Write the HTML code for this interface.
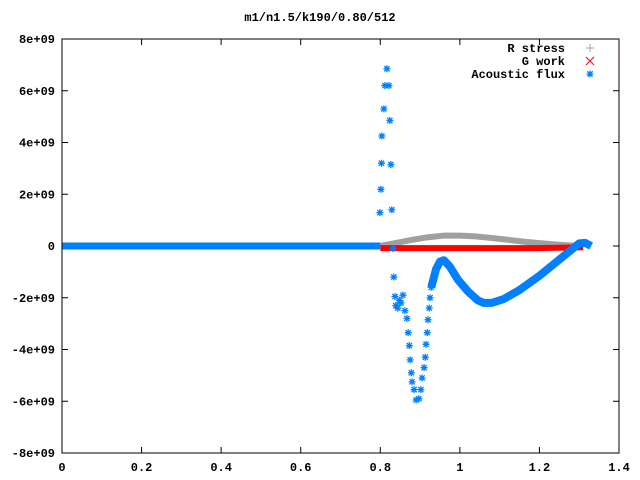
<!DOCTYPE html>
<html><head><meta charset="utf-8"><style>
html,body{margin:0;padding:0;background:#fff;}
svg{display:block;}
text{font-family:"Liberation Mono",monospace;font-size:12px;font-weight:bold;fill:#000;}
</style></head><body>
<svg id="chart" width="640" height="480" viewBox="0 0 640 480" xmlns="http://www.w3.org/2000/svg">
<rect width="640" height="480" fill="#fff"/>
<text x="320" y="21" text-anchor="middle">m1/n1.5/k190/0.80/512</text>
<g id="axes"></g>
<g id="series"></g>
<rect x="62" y="39" width="557" height="414" fill="none" stroke="#000" stroke-width="1"/>
<g id="legend"></g>
</svg>
<script>
const xTicks = [0, 0.2, 0.4, 0.6, 0.8, 1, 1.2, 1.4];
const xTickLabels = ["0","0.2","0.4","0.6","0.8","1","1.2","1.4"];
const yTicks = [8, 6, 4, 2, 0, -2, -4, -6, -8];
const yTickLabels = ["8e+09","6e+09","4e+09","2e+09","0","-2e+09","-4e+09","-6e+09","-8e+09"];
// values in units of 1e9
const rX = [0.80,0.84,0.88,0.92,0.96,1.00,1.04,1.08,1.12,1.16,1.20,1.24,1.28,1.31];
const rY = [0.0,0.12,0.24,0.34,0.40,0.40,0.37,0.31,0.24,0.17,0.11,0.06,0.02,0.0];
const gX = [0.80,0.90,1.00,1.10,1.20,1.31];
const gY = [-0.08,-0.08,-0.08,-0.08,-0.08,-0.05];
const flatX = [0, 0.80];
const flatY = [0, 0];
const spikeX = [0.799,0.8015,0.803,0.804,0.809,0.8116,0.8166,0.8216,0.824,0.8266,0.829,0.832,0.834,0.837,0.839,0.844,0.848,0.852,0.857,0.862,0.867,0.870,0.873,0.875,0.878,0.880,0.885,0.890,0.897,0.902,0.905,0.910,0.913,0.915,0.918,0.920,0.923,0.925,0.928];
const spikeY = [1.29,2.19,3.2,4.25,5.3,6.2,6.85,6.2,4.85,3.15,1.4,-0.1,-1.2,-1.95,-2.3,-2.4,-2.1,-2.2,-1.9,-2.5,-2.8,-3.35,-3.85,-4.4,-4.9,-5.25,-5.55,-5.95,-5.9,-5.55,-5.1,-4.7,-4.3,-3.8,-3.35,-2.85,-2.4,-2.0,-1.6];
const curveX = [0.928,0.935,0.94,0.95,0.96,0.975,0.995,1.02,1.045,1.06,1.08,1.11,1.15,1.20,1.24,1.28,1.30,1.315,1.33];
const curveY = [-1.6,-1.2,-0.9,-0.6,-0.55,-0.8,-1.3,-1.75,-2.1,-2.2,-2.2,-2.05,-1.7,-1.15,-0.65,-0.15,0.1,0.12,0.0];

const L=62,R=619,T=39,B=453;
const sx = v => L + (v-0)/(1.4-0)*(R-L);
const sy = v => B - (v+8)/16*(B-T);
const NS="http://www.w3.org/2000/svg";
function mk(tag, attrs, parent){const e=document.createElementNS(NS,tag);for(const k in attrs)e.setAttribute(k,attrs[k]);parent.appendChild(e);return e;}
const axes=document.getElementById('axes'), ser=document.getElementById('series'), leg=document.getElementById('legend');

xTicks.forEach((v,i)=>{
  const x=sx(v);
  const t1=mk('line',{x1:x,y1:B,x2:x,y2:B-6,stroke:'#000'},axes);
  
  
  const t2=mk('line',{x1:x,y1:T,x2:x,y2:T+6,stroke:'#000'},axes);
  
  
  const tx=mk('text',{x:x,y:B+18,'text-anchor':'middle'},axes);
  tx.textContent=xTickLabels[i];
  
  
});
yTicks.forEach((v,i)=>{
  const y=sy(v);
  const t1=mk('line',{x1:L,y1:y,x2:L+6,y2:y,stroke:'#000'},axes);
  
  
  const t2=mk('line',{x1:R,y1:y,x2:R-6,y2:y,stroke:'#000'},axes);
  
  
  const tx=mk('text',{x:L-7,y:y+4,'text-anchor':'end'},axes);
  tx.textContent=yTickLabels[i];
  
  
});

function star(x,y,g,c){
  const s=3.5;
  const p=mk('path',{d:`M${x-s},${y}H${x+s}M${x},${y-s}V${y+s}M${x-s*0.75},${y-s*0.75}L${x+s*0.75},${y+s*0.75}M${x-s*0.75},${y+s*0.75}L${x+s*0.75},${y-s*0.75}`,stroke:c,'stroke-width':1.3,fill:'none'},g);
  return p;
}
function band(xs,ys,color,w,name){
  const d=xs.map((v,i)=>(i?'L':'M')+sx(v)+','+sy(ys[i])).join('');
  const p=mk('path',{d:d,stroke:color,'stroke-width':w,fill:'none','stroke-linejoin':'round','stroke-linecap':'butt'},ser);
  
  
}
band(rX,rY,'#a0a0a0',6,'r-stress-series');
band(gX,gY,'#ff0000',6,'g-work-series');
band(flatX,flatY,'#0080ff',7,'acoustic-flux-flat');
band(curveX,curveY,'#0080ff',8,'acoustic-flux-curve');
const sg=mk('g',{},ser);


spikeX.forEach((v,i)=>{
  const p=star(sx(v),sy(spikeY[i]),sg,'#0080ff');
  
  
});

const entries=[["R stress","#a0a0a0","plus"],["G work","#ff0000","cross"],["Acoustic flux","#0080ff","star"]];
entries.forEach((e,i)=>{
  const y=48+i*13;
  const t=mk('text',{x:565,y:y+4,'text-anchor':'end'},leg);
  t.textContent=e[0];
  
  
  const x=590;let p;
  if(e[2]==='plus') p=mk('path',{d:`M${x-4},${y}H${x+4}M${x},${y-4}V${y+4}`,stroke:e[1],fill:'none'},leg);
  else if(e[2]==='cross') p=mk('path',{d:`M${x-4},${y-4}L${x+4},${y+4}M${x-4},${y+4}L${x+4},${y-4}`,stroke:e[1],fill:'none'},leg);
  else p=star(x,y,leg,e[1]);
  
  
});
</script>
</body></html>
